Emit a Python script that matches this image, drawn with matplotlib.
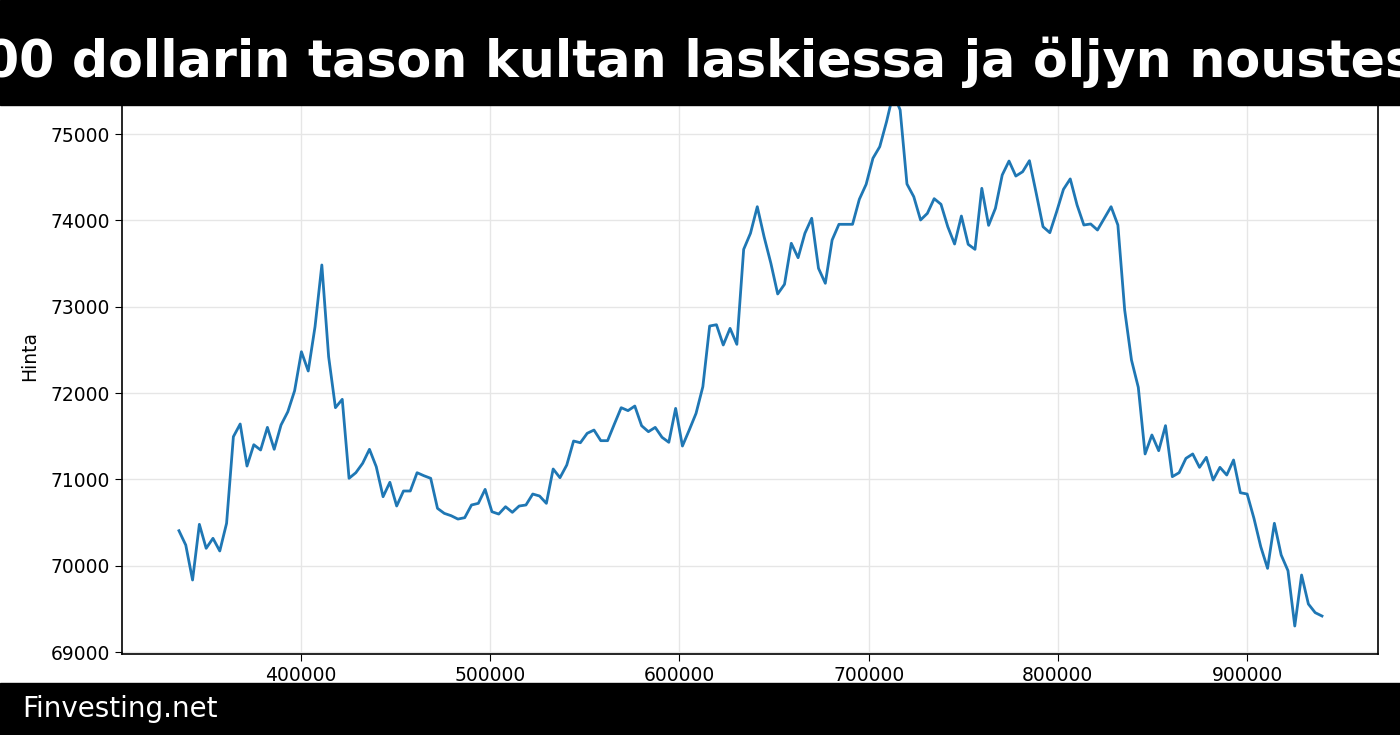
import numpy as np
import matplotlib
matplotlib.use("Agg")
import matplotlib.pyplot as plt

title_text = "00 dollarin tason kultan laskiessa ja öljyn noustes"
footer_text = "Finvesting.net"
y_label = "Hinta"

x_start, x_end = 335500, 939600
prices = [
    70405, 70239, 69834, 70479, 70201, 70317, 70170, 70491, 71494, 71641,
    71154, 71401, 71340, 71602, 71348, 71629, 71783, 72027, 72478, 72255,
    72768, 73483, 72420, 71830, 71927, 71012, 71077, 71186, 71348, 71146,
    70799, 70966, 70691, 70865, 70865, 71077, 71042, 71012, 70664, 70606,
    70579, 70540, 70556, 70703, 70722, 70884, 70625, 70598, 70683, 70618,
    70691, 70703, 70830, 70807, 70722, 71120, 71019, 71166, 71444, 71424,
    71533, 71571, 71448, 71448, 71641, 71830, 71796, 71849, 71621, 71552,
    71602, 71487, 71429, 71822, 71386, 71571, 71764, 72073, 72776, 72791,
    72556, 72749, 72564, 73664, 73850, 74158, 73810, 73502, 73147, 73259,
    73734, 73567, 73850, 74024, 73444, 73271, 73772, 73954, 73954, 73954,
    74244, 74417, 74719, 74853, 75143, 75475, 75278, 74421, 74274, 74004,
    74081, 74251, 74186, 73926, 73726, 74050, 73722, 73664, 74371, 73942,
    74139, 74525, 74687, 74513, 74563, 74691, 74313, 73926, 73857, 74100,
    74359, 74480, 74178, 73946, 73958, 73888, 74023, 74158, 73946, 72961,
    72382, 72066, 71294, 71514, 71332, 71622, 71031, 71077, 71243, 71294,
    71139, 71255, 70992, 71139, 71050, 71224, 70845, 70830, 70548, 70220,
    69969, 70491, 70124, 69942, 69301, 69892, 69556, 69456, 69417,
]
x_vals = np.linspace(x_start, x_end, len(prices))

fig = plt.figure(figsize=(14, 7.35), dpi=100)
ax = fig.add_axes([122/1400, 1-654/735, (1378-122)/1400, (654-69)/735])
ax.plot(x_vals, prices, color="#1f77b4", lw=2.0)
ax.set_xlim(305400, 969200)
ax.set_ylim(68977, 75753)
ax.set_xticks([400000, 500000, 600000, 700000, 800000, 900000])
ax.set_yticks([69000, 70000, 71000, 72000, 73000, 74000, 75000])
ax.grid(True, color="#e6e6e6", lw=1.0)
ax.set_axisbelow(True)
ax.tick_params(labelsize=13.5, length=5)
ax.set_ylabel(y_label, fontsize=13.5)
ax.yaxis.set_label_coords(-0.066, 0.51)
for s in ax.spines.values():
    s.set_linewidth(1.2)

fig.patches.append(plt.Rectangle((0, 1-105/735), 1, 105/735, transform=fig.transFigure,
                                 color="black", zorder=10))
fig.patches.append(plt.Rectangle((0, 0), 1, 52/735, transform=fig.transFigure,
                                 color="black", zorder=10))
fig.text(0.5, 1-62/735, title_text, color="white", fontsize=36.5, fontweight="bold",
         ha="center", va="center", zorder=11)
fig.text(22/1400, 1-709/735, footer_text, color="white", fontsize=20,
         ha="left", va="center", zorder=11)
fig.savefig("out.png", dpi=100)
